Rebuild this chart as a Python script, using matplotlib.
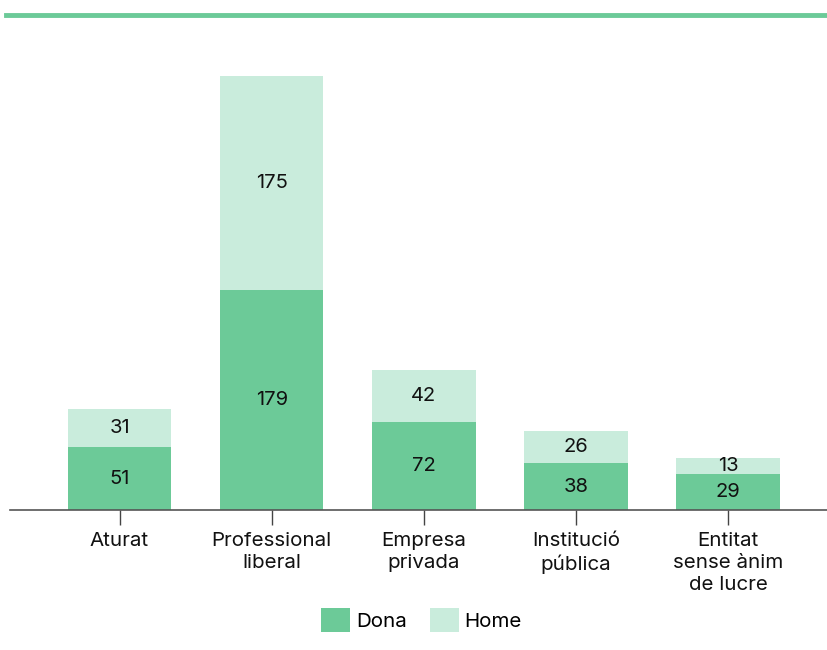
import matplotlib
matplotlib.use("Agg")
import matplotlib.pyplot as plt
from matplotlib.lines import Line2D

categories = ["Aturat", "Professional\nliberal", "Empresa\nprivada",
              "Institució\npública", "Entitat\nsense ànim\nde lucre"]
dona = [51, 179, 72, 38, 29]
home = [31, 175, 42, 26, 13]

C_DONA = "#6cca98"
C_HOME = "#c9ecdc"

plt.rcParams["font.family"] = ["Inter", "DejaVu Sans"]

fig = plt.figure(figsize=(8.27, 6.5), dpi=100)
ax = fig.add_axes([10 / 827, 140 / 650, 817 / 827, 470 / 650])

x = list(range(len(categories)))
width = 0.68
b1 = ax.bar(x, dona, width, color=C_DONA, label="Dona")
b2 = ax.bar(x, home, width, bottom=dona, color=C_HOME, label="Home")

for xi, d, h in zip(x, dona, home):
    ax.text(xi, d / 2, str(d), ha="center", va="center", fontsize=14.5, color="#111111")
    ax.text(xi, d + h / 2, str(h), ha="center", va="center", fontsize=14.5, color="#111111")

ax.set_xlim(-0.72, 4.65)
ax.set_ylim(0, 383)
ax.set_xticks(x)
ax.set_xticklabels(categories, fontsize=14.8, color="#111111", linespacing=1.28)
ax.tick_params(axis="x", length=11, width=1, color="#444444", pad=5)
ax.set_yticks([])
for side in ["top", "right", "left"]:
    ax.spines[side].set_visible(False)
ax.spines["bottom"].set_color("#555555")
ax.spines["bottom"].set_linewidth(1.2)

# green rule at the top
fig.add_artist(Line2D([6 / 827, 1.0], [1 - 15 / 650] * 2, color=C_DONA,
                      linewidth=3.5, transform=fig.transFigure))

fig.legend(handles=[b1, b2], loc="center", bbox_to_anchor=(0.51, 1 - 620 / 650),
           ncol=2, frameon=False, fontsize=14.8, handlelength=1.4, handleheight=1.4,
           handletextpad=0.3, columnspacing=1.1)

fig.savefig("out.png", dpi=100)
